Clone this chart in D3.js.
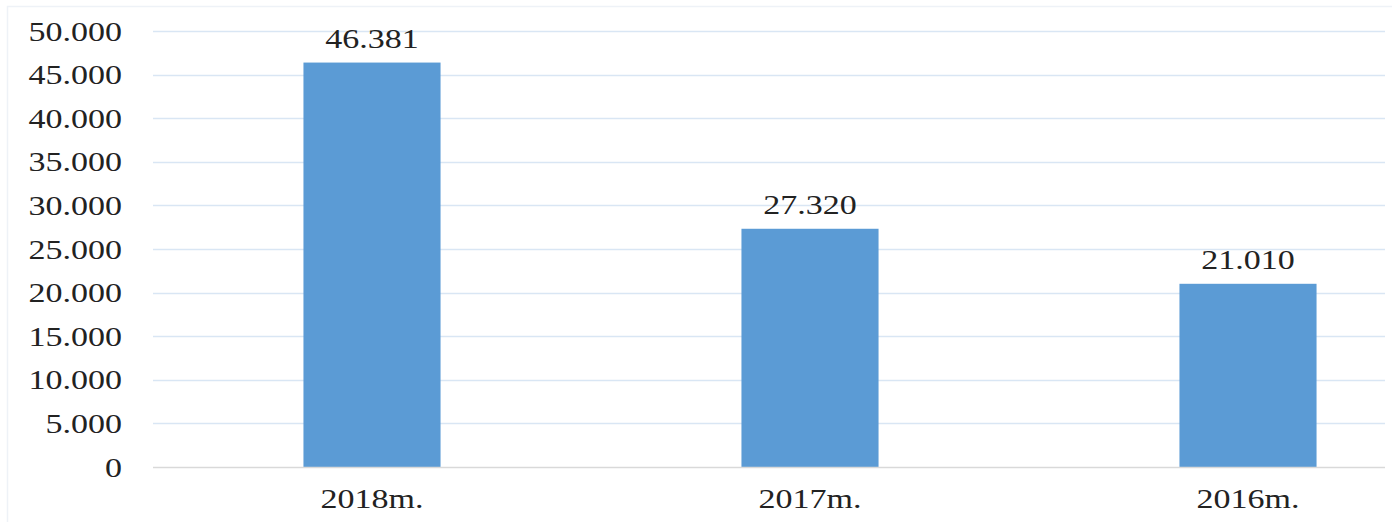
<!DOCTYPE html>
<html>
<head>
<meta charset="utf-8">
<script src="https://d3js.org/d3.v7.min.js"></script>
<style>
  body { margin: 0; background: #fff; }
  text { font-family: "Liberation Serif", "Times New Roman", serif; fill: #222; }
</style>
</head>
<body>
<div id="chart"></div>
<script>
// values
var categories = ["2018m.", "2017m.", "2016m."];
var values = [46381, 27320, 21010];
var valueLabels = ["46.381", "27.320", "21.010"];
var yTicks = [0, 5000, 10000, 15000, 20000, 25000, 30000, 35000, 40000, 45000, 50000];

const W = 1392, H = 522;
// the source image is stretched sideways, so text gets a horizontal scale
const stretch = 1.26;
const fontSize = 27;

var svg = d3.select("#chart").append("svg")
    .attr("width", W)
    .attr("height", H);

// faint chart frame
svg.append("rect")
    .attr("x", 7.5).attr("y", 6.5)
    .attr("width", W + 20).attr("height", H + 20)
    .attr("fill", "none")
    .attr("stroke", "#eef2f7")
    .attr("stroke-width", 1.5);

var plotLeft = 153, plotRight = 1385;

var y = d3.scaleLinear().domain([0, 50000]).range([467, 31]);
var x = d3.scaleBand().domain(categories)
    .range([153, 153 + 3 * 438])
    .paddingInner(0.687)
    .paddingOuter(0.3435);

function fmt(v) {
  return d3.format(",")(v).replace(/,/g, ".");
}

// gridlines
svg.append("g").selectAll("line")
    .data(yTicks.filter(function(d){ return d > 0; }))
    .enter().append("line")
    .attr("x1", plotLeft).attr("x2", plotRight)
    .attr("y1", function(d){ return Math.round(y(d)) + 0.5; })
    .attr("y2", function(d){ return Math.round(y(d)) + 0.5; })
    .attr("stroke", "#d9e6f4")
    .attr("stroke-width", 1.3);

// y tick labels
svg.append("g").selectAll("text")
    .data(yTicks)
    .enter().append("text")
    .attr("text-anchor", "end")
    .attr("font-size", fontSize)
    .attr("transform", function(d){
      return "translate(122," + (y(d) + 9.5) + ") scale(" + stretch + ",1)";
    })
    .text(function(d){ return fmt(d); });

// bars
svg.append("g").selectAll("rect")
    .data(values)
    .enter().append("rect")
    .attr("x", function(d, i){ return x(categories[i]); })
    .attr("y", function(d){ return y(d); })
    .attr("width", x.bandwidth())
    .attr("height", function(d){ return y(0) - y(d); })
    .attr("fill", "#5b9bd5");

// baseline
svg.append("line")
    .attr("x1", plotLeft).attr("x2", plotRight)
    .attr("y1", y(0) + 0.5).attr("y2", y(0) + 0.5)
    .attr("stroke", "#d9d9d9")
    .attr("stroke-width", 1.3);

// value labels
svg.append("g").selectAll("text")
    .data(values)
    .enter().append("text")
    .attr("text-anchor", "middle")
    .attr("font-size", fontSize)
    .attr("transform", function(d, i){
      var cx = x(categories[i]) + x.bandwidth() / 2;
      return "translate(" + cx + "," + (y(d) - 15) + ") scale(" + stretch + ",1)";
    })
    .text(function(d, i){ return valueLabels[i]; });

// category labels
svg.append("g").selectAll("text")
    .data(categories)
    .enter().append("text")
    .attr("text-anchor", "middle")
    .attr("font-size", fontSize)
    .attr("transform", function(d){
      var cx = x(d) + x.bandwidth() / 2;
      return "translate(" + cx + ",508) scale(" + stretch + ",1)";
    })
    .text(function(d){ return d; });
</script>
</body>
</html>
